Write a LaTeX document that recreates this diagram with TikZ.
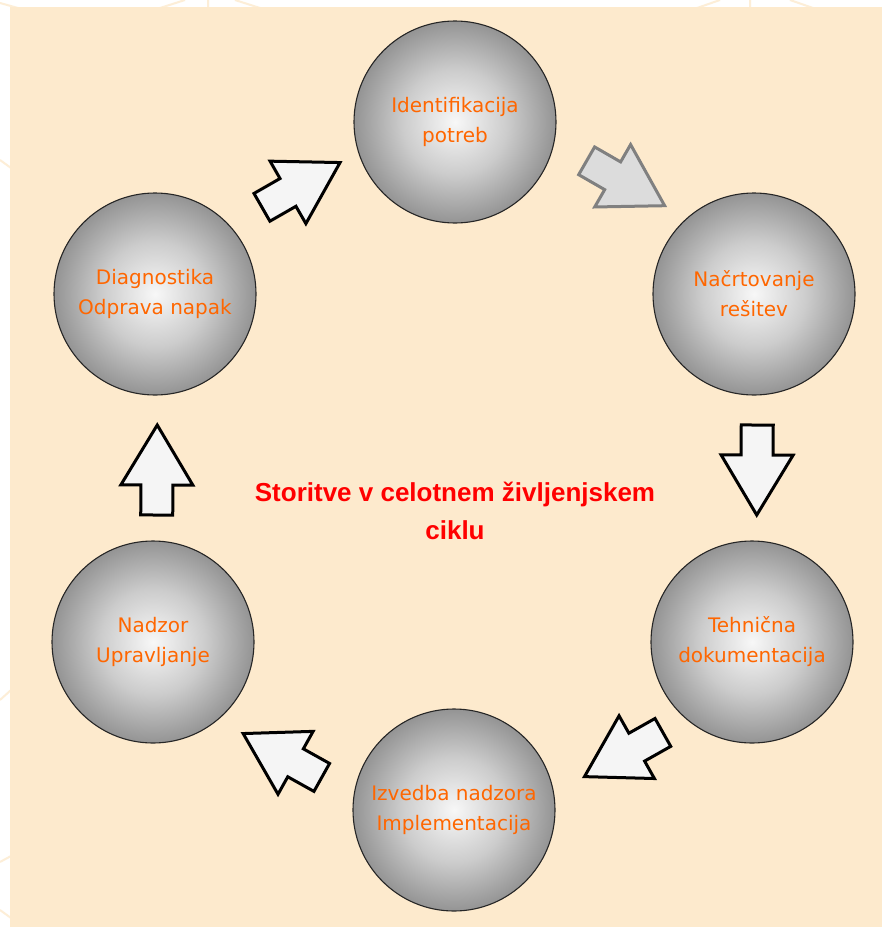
\documentclass[tikz,border=0pt]{standalone}
\usepackage{fontspec}
\usepackage{tikz}
\usetikzlibrary{calc}

\newfontfamily\bubblefont{DejaVu Sans}
\newfontfamily\titlefont{Liberation Sans}

\definecolor{peach}{RGB}{253,234,205}
\definecolor{bubbletext}{RGB}{255,102,0}
\definecolor{arrowfill}{RGB}{245,245,245}
\definecolor{activefill}{RGB}{220,220,220}
\definecolor{activeline}{RGB}{128,128,128}

\pgfdeclareradialshading{bubbleshade}{\pgfpoint{0bp}{0bp}}{%
  color(0bp)=(white!97!black); color(13bp)=(black!20);
  color(25bp)=(black!42); color(50bp)=(black!42)}

\tikzset{
  bubble/.style={circle, minimum size=202pt, inner sep=0pt, draw=black!85,
    line width=1.1pt, shading=bubbleshade, align=center, text=bubbletext,
    font=\bubblefont\fontsize{20}{30}\selectfont},
  nextarrow/.style={fill=arrowfill, draw=black, line width=3pt},
  activearrow/.style={fill=activefill, draw=activeline, line width=3pt},
  titlenote/.style={align=center, text=red,
    font=\titlefont\bfseries\fontsize{26}{38}\selectfont},
  margin line/.style={peach!80!white, line width=2pt}
}

% block arrow between two bubbles: from, to, shift along, shift across (negative = outward)
\newcommand{\cyclearrow}[5]{%
  \coordinate (arrmid) at ($(#1)!0.5!(#2)$);
  \pgfmathanglebetweenpoints{\pgfpointanchor{#1}{center}}{\pgfpointanchor{#2}{center}}
  \let\arrangle\pgfmathresult
  \begin{scope}[shift={(arrmid)}, rotate=\arrangle, shift={(#4,#5)}]
    \draw[#3] (-45,16) -- (-15,16) -- (-15,36) -- (45,0) -- (-15,-36)
      -- (-15,-16) -- (-45,-16) -- cycle;
  \end{scope}}

\begin{document}
\begin{tikzpicture}[x=1pt, y=-1pt]
  % background
  \useasboundingbox (0,0) rectangle (882,927);
  \fill[white] (0,0) rectangle (882,927);
  \draw[margin line] (0,3) -- (18,8) (160,8) -- (185,0) (208,0) -- (208,8)
    (235,0) -- (260,8) (697,8) -- (720,0) (750,0) -- (750,8) (790,0) -- (813,8);
  \draw[margin line] (0,160) -- (11,168) (0,700) -- (11,690)
    (0,862) -- (11,856) (0,910) -- (11,918);
  \fill[peach] (10,7) rectangle (882,927);

  % life cycle bubbles
  \node[bubble] (identifikacija) at (455,122) {Identifikacija\\potreb};
  \node[bubble] (nacrtovanje) at (754,294) {Načrtovanje\\rešitev};
  \node[bubble] (tehnicna) at (752,642) {Tehnična\\dokumentacija};
  \node[bubble] (izvedba) at (454,810) {Izvedba nadzora\\Implementacija};
  \node[bubble] (nadzor) at (153,642) {Nadzor\\Upravljanje};
  \node[bubble] (diagnostika) at (155,294) {Diagnostika\\Odprava napak};

  % centre title
  \node[titlenote] (title) at (455,511) {Storitve v celotnem življenjskem\\ciklu};

  % arrows round the cycle
  \cyclearrow{identifikacija}{nacrtovanje}{activearrow}{6}{-32}
  \cyclearrow{nacrtovanje}{tehnicna}{nextarrow}{2}{-4}
  \cyclearrow{tehnicna}{izvedba}{nextarrow}{-4}{-35}
  \cyclearrow{izvedba}{nadzor}{nextarrow}{4}{-36}
  \cyclearrow{nadzor}{diagnostika}{nextarrow}{-2}{3}
  \cyclearrow{diagnostika}{identifikacija}{nextarrow}{8}{-22}
\end{tikzpicture}
\end{document}
